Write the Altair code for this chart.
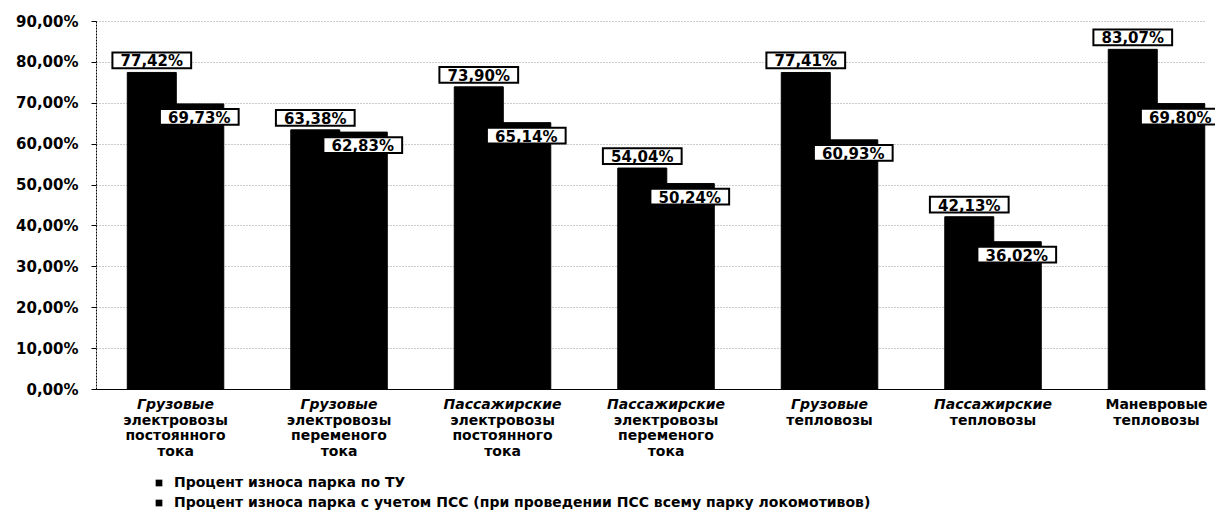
import altair as alt
import pandas as pd

categories = [
    "Грузовые электровозы постоянного тока",
    "Грузовые электровозы переменого тока",
    "Пассажирские электровозы постоянного тока",
    "Пассажирские электровозы переменого тока",
    "Грузовые тепловозы",
    "Пассажирские тепловозы",
    "Маневровые тепловозы",
]
category_lines = [
    ["Грузовые", "электровозы", "постоянного", "тока"],
    ["Грузовые", "электровозы", "переменого", "тока"],
    ["Пассажирские", "электровозы", "постоянного", "тока"],
    ["Пассажирские", "электровозы", "переменого", "тока"],
    ["Грузовые", "тепловозы"],
    ["Пассажирские", "тепловозы"],
    ["Маневровые", "тепловозы"],
]
first_line_italic = [True, True, True, True, True, True, False]

series_names = [
    "Процент износа парка по ТУ",
    "Процент износа парка с учетом ПСС (при проведении ПСС всему парку локомотивов)",
]
series1 = [77.42, 63.38, 73.90, 54.04, 77.41, 42.13, 83.07]
series2 = [69.73, 62.83, 65.14, 50.24, 60.93, 36.02, 69.80]
y_ticks = [0, 10, 20, 30, 40, 50, 60, 70, 80, 90]

rows = []
for c, a, b in zip(categories, series1, series2):
    for s, v in ((series_names[0], a), (series_names[1], b)):
        rows.append({"cat": c, "series": s, "value": v,
                     "label": f"{v:.2f}".replace(".", ",") + "%"})
df = pd.DataFrame(rows)

lab_rows = []
for c, lines, it in zip(categories, category_lines, first_line_italic):
    for i, t in enumerate(lines):
        lab_rows.append({"cat": c, "line": i, "text": t, "italic": bool(it and i == 0)})
ldf = pd.DataFrame(lab_rows)

FONT = "DejaVu Sans"
W, H = 1109, 368

xscale = alt.Scale(domain=categories, paddingInner=0.419, paddingOuter=0.101, align=0.97)
xaxis = alt.Axis(labels=False, ticks=False, domain=True, domainColor="black",
                 domainWidth=1, grid=False, title=None)
X = alt.X("cat:N", sort=categories, scale=xscale, axis=xaxis, title=None)
XO = alt.XOffset("series:N", sort=series_names,
                 scale=alt.Scale(domain=series_names, paddingInner=0, paddingOuter=0))
yscale = alt.Scale(domain=[0, 90], nice=False)
yaxis = alt.Axis(values=y_ticks, title=None,
                 labelExpr="replace(format(datum.value, '.2f'), '.', ',') + '%'",
                 labelFont=FONT, labelFontWeight="bold", labelFontSize=15,
                 labelColor="black", labelPadding=13,
                 tickSize=5, tickColor="black",
                 domainColor="black", domainDash=[2, 1],
                 gridColor="#999", gridDash=[1, 2], gridWidth=1)
Y = alt.Y("value:Q", scale=yscale, axis=yaxis, title=None)

base = alt.Chart(df)

bars = base.mark_bar(size=49, stroke="black", strokeWidth=1).encode(
    x=X, xOffset=XO, y=Y,
    color=alt.Color("series:N", sort=series_names,
                    scale=alt.Scale(domain=series_names, range=["#000000", "#000000"]),
                    legend=alt.Legend(title=None, orient="none", legendX=56, legendY=455,
                                      direction="vertical", symbolType="square",
                                      symbolSize=45, labelFont=FONT, labelFontWeight="bold",
                                      labelFontSize=14, labelColor="black", labelLimit=2000,
                                      rowPadding=6, labelOffset=8, symbolStrokeWidth=0)),
)

box_shape = "M-1,-0.2H1V0.2H-1Z"

def labels(series, dy):
    sub = base.transform_filter(alt.datum.series == series)
    box = sub.mark_point(shape=box_shape, size=6200, filled=False, fill="white",
                         fillOpacity=1, stroke="black", strokeWidth=2, opacity=1,
                         yOffset=dy).encode(x=X, xOffset=XO, y=Y)
    txt = sub.mark_text(font=FONT, fontWeight="bold", fontSize=15, color="black",
                        baseline="middle", yOffset=dy + 1).encode(
        x=X, xOffset=XO, y=Y, text="label:N")
    return box + txt

lab1 = labels(series_names[0], -12)
lab2 = labels(series_names[1], 13)

xl_layers = []
lbase = alt.Chart(ldf)
for i in range(4):
    for it in (True, False):
        layer = lbase.transform_filter(
            (alt.datum.line == i) & (alt.datum.italic == it)
        ).mark_text(font=FONT, fontWeight="bold", fontSize=14, color="black",
                    fontStyle="italic" if it else "normal", baseline="middle",
                    dy=i * 15.5).encode(x=X, y=alt.value(384), text="text:N")
        xl_layers.append(layer)

chart = alt.layer(bars, lab1, lab2, *xl_layers).properties(
    width=W, height=H,
    autosize=alt.AutoSizeParams(type="none"),
    padding={"left": 88, "top": 13, "right": 10, "bottom": 122},
    background="white",
).configure_view(stroke=None)

chart.save("out.html", embed_options={"renderer": "svg", "actions": False})
